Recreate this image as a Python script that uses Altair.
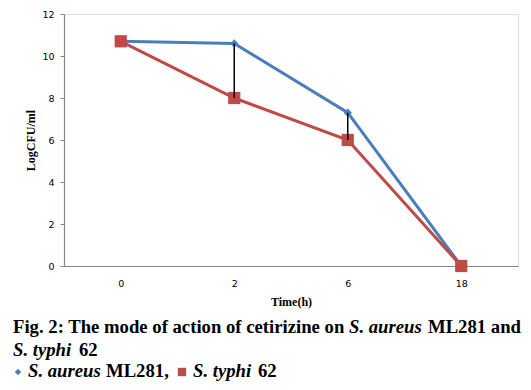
import altair as alt
import pandas as pd

times = ["0", "2", "6", "18"]
aureus = [10.7, 10.6, 7.3, 0.0]
typhi = [10.7, 8.0, 6.0, 0.0]
series_names = ["S. aureus ML281", "S. typhi 62"]
colors = ["#4A7EBB", "#BE4B48"]
y_ticks = [0, 2, 4, 6, 8, 10, 12]

long = pd.DataFrame({
    "time": times * 2,
    "value": aureus + typhi,
    "series": [series_names[0]] * len(times) + [series_names[1]] * len(times),
})
wide = pd.DataFrame({"time": times, "aureus": aureus, "typhi": typhi})

W, H = 454, 252
OX, OY = 64, 14  # page position of plot origin

x_enc = alt.X("time:N", sort=times, scale=alt.Scale(type="point", padding=0.5),
              axis=alt.Axis(title="Time(h)", labelAngle=0, ticks=False,
                            domainColor="#868686", domainWidth=1.2,
                            labelFont="DejaVu Sans", labelFontSize=9.5, labelColor="#000000",
                            labelPadding=12, titleFont="Liberation Serif", titleFontWeight="bold",
                            titleFontSize=12, titleColor="#000000", titlePadding=9))
y_enc = alt.Y("value:Q", scale=alt.Scale(domain=[0, 12], nice=False),
              axis=alt.Axis(values=y_ticks, grid=False, tickSize=4, tickColor="#868686",
                            domainColor="#868686", domainWidth=1.2,
                            labelFont="DejaVu Sans", labelFontSize=9.5, labelColor="#000000",
                            labelPadding=6, title="LogCFU/ml", titleFont="Liberation Serif",
                            titleFontWeight="bold", titleFontSize=12, titleColor="#000000",
                            titlePadding=4))
color_enc = alt.Color("series:N", scale=alt.Scale(domain=series_names, range=colors), legend=None)

base = alt.Chart(long)
lines = []
for i, name in enumerate(series_names):
    sub = base.transform_filter(alt.datum.series == name)
    ln = sub.mark_line(strokeWidth=3).encode(x=x_enc, y=y_enc, color=color_enc)
    if i == 0:
        pt = sub.mark_point(shape="diamond", filled=True, size=70, opacity=1).encode(x=x_enc, y=y_enc, color=color_enc)
    else:
        pt = sub.mark_square(size=150, opacity=1).encode(x=x_enc, y=y_enc, color=color_enc)
    lines += [ln, pt]

rules = alt.Chart(wide).mark_rule(color="#000000", strokeWidth=1.5).encode(
    x=alt.X("time:N", sort=times), y="aureus:Q", y2="typhi:Q")

FS = 18.7


def txt(s, px, py, italic=False, size=FS):
    return alt.Chart(pd.DataFrame({"t": [s]})).mark_text(
        align="left", baseline="alphabetic", font="Liberation Serif", fontWeight="bold",
        fontStyle="italic" if italic else "normal", fontSize=size, color="#000000"
    ).encode(x=alt.value(px - OX), y=alt.value(py - OY), text="t:N")


def marker(shape, color, px, py, size):
    return alt.Chart(pd.DataFrame({"a": [0]})).mark_point(
        shape=shape, filled=True, size=size, opacity=1, color=color
    ).encode(x=alt.value(px - OX), y=alt.value(py - OY))


caption = [
    txt("Fig. 2: The mode of action of cetirizine on", 13, 333),
    txt("S. aureus", 349, 333, italic=True),
    txt("ML281 and", 428, 333),
    txt("S. typhi", 13, 356, italic=True),
    txt("62", 79, 356),
    marker("diamond", colors[0], 18, 372, 40),
    txt("S. aureus", 28, 377, italic=True),
    txt("ML281,", 106, 377),
    marker("square", colors[1], 182, 372, 70),
    txt("S. typhi", 193, 377, italic=True),
    txt("62", 258, 377),
]

chart = alt.layer(*lines, rules, *caption).properties(
    width=W, height=H,
    autosize=alt.AutoSizeParams(type="none"),
    padding={"left": 56, "top": 6, "right": 5, "bottom": 116},
).configure_view(strokeWidth=0).configure(background="white")

chart.save("out.html", embed_options={"renderer": "svg", "actions": False})
